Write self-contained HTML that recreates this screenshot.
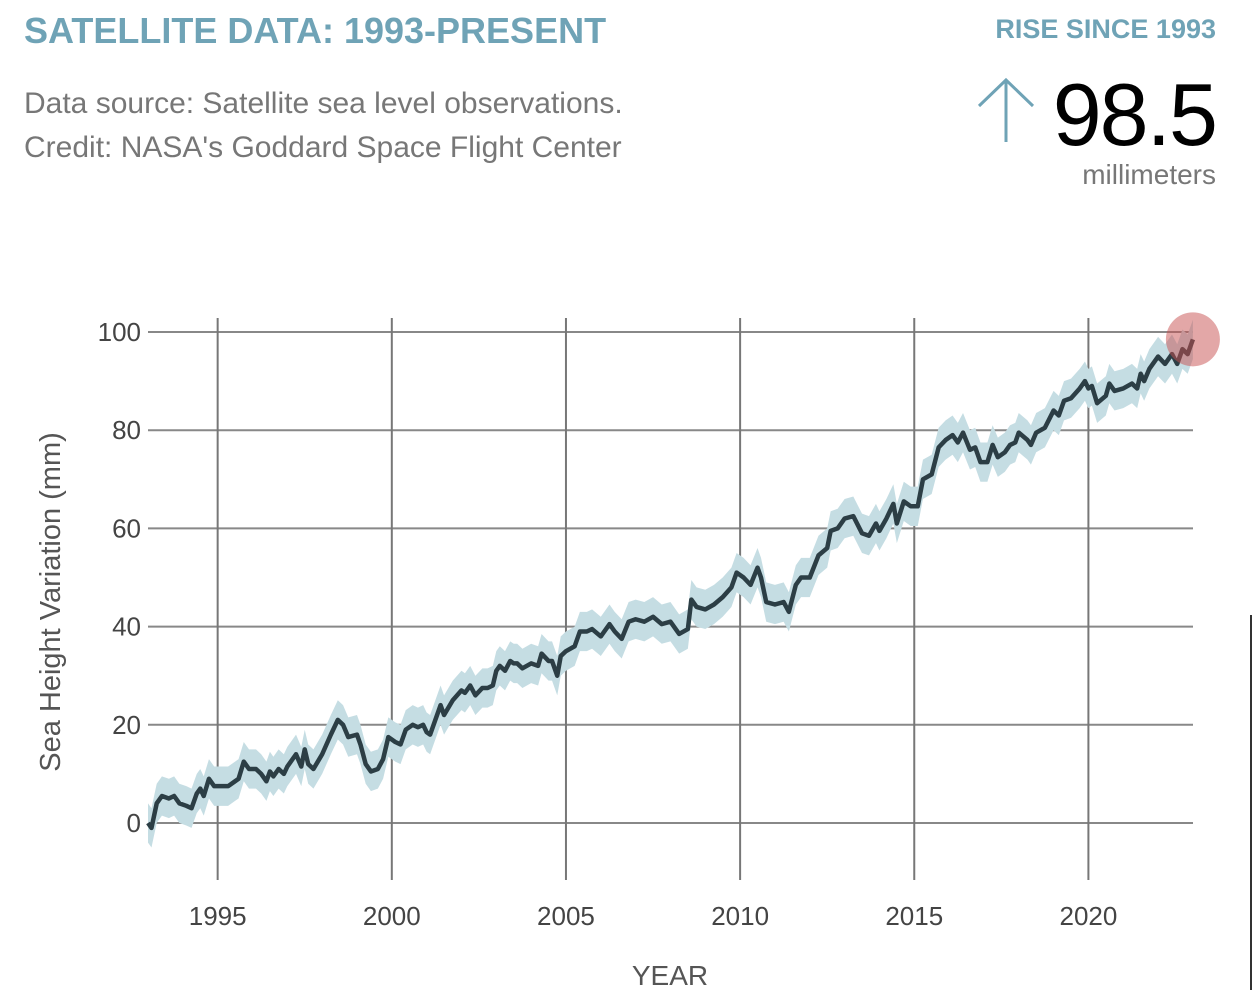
<!DOCTYPE html>
<html><head><meta charset="utf-8"><style>
body{margin:0;background:#fff;width:1254px;height:990px;overflow:hidden;font-family:"Liberation Sans",Arial,sans-serif;position:relative}
.t{position:absolute;white-space:nowrap}
</style></head><body>
<div class="t" style="left:24px;top:10px;font-size:36px;font-weight:bold;color:#6fa3b6">SATELLITE DATA: 1993-PRESENT</div>
<div class="t" style="left:24px;top:87px;font-size:30px;color:#777">Data source: Satellite sea level observations.</div>
<div class="t" style="left:24px;top:131px;font-size:30px;color:#777">Credit: NASA's Goddard Space Flight Center</div>
<div class="t" style="right:38px;top:14px;font-size:27px;font-weight:bold;color:#6fa3b6">RISE SINCE 1993</div>
<div class="t" style="right:38px;top:64px;font-size:88px;color:#000;letter-spacing:-2px">98.5</div>
<div class="t" style="right:38px;top:159px;font-size:28px;color:#777">millimeters</div>
<svg class="t" style="left:975px;top:76px" width="62" height="68"><path d="M31 66V4M4 30L31 4L58 30" stroke="#6fa3b6" stroke-width="3" fill="none"/></svg>
<svg id="chart" width="1254" height="990" style="position:absolute;left:0;top:0"></svg>
<script>
const years=[1993.0,1993.1,1993.25,1993.4,1993.6,1993.75,1993.9,1994.1,1994.25,1994.4,1994.5,1994.6,1994.75,1994.9,1995.1,1995.3,1995.5,1995.6,1995.75,1995.9,1996.1,1996.25,1996.4,1996.5,1996.6,1996.75,1996.9,1997.0,1997.25,1997.4,1997.5,1997.6,1997.75,1998.0,1998.25,1998.45,1998.6,1998.75,1999.0,1999.1,1999.25,1999.4,1999.6,1999.75,1999.9,2000.1,2000.25,2000.4,2000.6,2000.75,2000.9,2001.0,2001.1,2001.25,2001.4,2001.5,2001.75,2002.0,2002.1,2002.25,2002.4,2002.6,2002.75,2002.9,2003.0,2003.1,2003.25,2003.4,2003.5,2003.6,2003.75,2004.0,2004.2,2004.3,2004.5,2004.6,2004.75,2004.85,2005.0,2005.25,2005.4,2005.6,2005.75,2006.0,2006.25,2006.4,2006.6,2006.8,2007.0,2007.25,2007.5,2007.75,2008.0,2008.25,2008.5,2008.6,2008.75,2009.0,2009.25,2009.5,2009.75,2009.9,2010.1,2010.3,2010.5,2010.6,2010.75,2011.0,2011.25,2011.4,2011.6,2011.75,2012.0,2012.25,2012.5,2012.6,2012.8,2013.0,2013.25,2013.5,2013.7,2013.9,2014.0,2014.2,2014.4,2014.5,2014.7,2014.9,2015.1,2015.25,2015.5,2015.7,2015.9,2016.1,2016.25,2016.4,2016.6,2016.75,2016.9,2017.1,2017.25,2017.4,2017.6,2017.75,2017.9,2018.0,2018.25,2018.35,2018.5,2018.75,2019.0,2019.15,2019.3,2019.5,2019.75,2019.9,2020.0,2020.1,2020.25,2020.5,2020.6,2020.75,2021.0,2021.25,2021.4,2021.5,2021.6,2021.75,2022.0,2022.2,2022.4,2022.55,2022.7,2022.85,2023.0];
const heights=[0,-1,4,5.5,5,5.5,4,3.5,3,6,7,5.5,9,7.5,7.5,7.5,8.5,9,12.5,11,11,10,8.5,10.5,9.5,11,10,11.5,14,11.5,15,12,11,14,18,21,20,17.5,18,16,12,10.5,11,13,17.5,16.5,16,19,20,19.5,20,18.5,18,21,24,22,25,27,26.5,28,26,27.5,27.5,28,31,32,31,33,32.5,32.5,31.5,32.5,32,34.5,33,33,30,34,35,36,39,39,39.5,38,40.5,39,37.5,41,41.5,41,42,40.5,41,38.5,39.5,45.5,44,43.5,44.5,46,48,51,50,48.5,52,50,45,44.5,45,43,48.5,50,50,54.5,56,59.5,60,62,62.5,59,58.5,61,59.5,62,65,61,65.5,64.5,64.5,70,71,76.5,78,79,77.5,79.5,76,76.5,73.5,73.5,77,74.5,75.5,77,77.5,79.5,78,77,79.5,80.5,84,83,86,86.5,88.5,90,88.5,89,85.5,87,89.5,88,88.5,89.5,88.5,91.5,90,92.5,95,93.5,95.5,93.5,96.5,95.5,98.5];
const uncertainty=4;
const yTicks=[0,20,40,60,80,100];
const xTicks=[1995,2000,2005,2010,2015,2020];
const X=y=>148+(y-1993)*34.83;
const Y=v=>823-v*4.91;
const NS='http://www.w3.org/2000/svg';
const svg=document.getElementById('chart');
function mk(t,a){const e=document.createElementNS(NS,t);for(const k in a)e.setAttribute(k,a[k]);svg.appendChild(e);return e;}
yTicks.forEach(v=>{
  const l=mk('line',{x1:148,x2:1193,y1:Y(v),y2:Y(v),stroke:'#888','stroke-width':2});
  
  
  const t=mk('text',{x:141,y:Y(v)+9,'text-anchor':'end','font-size':26,fill:'#444'});
  t.textContent=v;
  
  
});
xTicks.forEach(v=>{
  const l=mk('line',{x1:X(v),x2:X(v),y1:318,y2:880,stroke:'#777','stroke-width':2});
  
  
  const t=mk('text',{x:X(v),y:925,'text-anchor':'middle','font-size':26,fill:'#444'});
  t.textContent=v;
  
  
});
let up=years.map((y,i)=>X(y)+','+Y(heights[i]+uncertainty));
let lo=years.map((y,i)=>X(y)+','+Y(heights[i]-uncertainty)).reverse();
const band=mk('polygon',{points:up.concat(lo).join(' '),fill:'#c5dde3'});


const line=mk('polyline',{points:years.map((y,i)=>X(y)+','+Y(heights[i])).join(' '),fill:'none',stroke:'#2c3e45','stroke-width':4.5,'stroke-linejoin':'round'});


const c=mk('circle',{cx:X(years[years.length-1]),cy:Y(heights[heights.length-1]),r:27,fill:'rgba(200,80,80,0.5)'});


const yt=mk('text',{x:0,y:0,transform:'translate(60,602) rotate(-90)','text-anchor':'middle','font-size':29,fill:'#555'});
yt.textContent='Sea Height Variation (mm)';


const xt=mk('text',{x:670,y:985,'text-anchor':'middle','font-size':28,fill:'#555'});
xt.textContent='YEAR';


const rl=mk('line',{x1:1251,x2:1251,y1:615,y2:990,stroke:'#333','stroke-width':2});


</script>
</body></html>
